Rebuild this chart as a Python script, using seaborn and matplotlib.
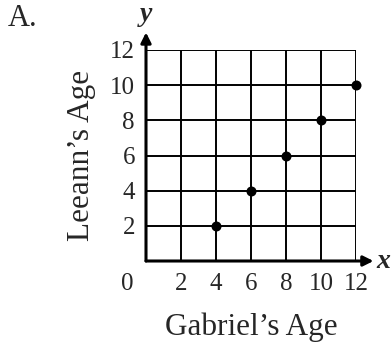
import numpy as np
import pandas as pd
import seaborn as sns
import matplotlib.pyplot as plt

# Points
gabriel_age = [4, 6, 8, 10, 12]
leeann_age = [2, 4, 6, 8, 10]
tick_values = [0, 2, 4, 6, 8, 10, 12]
tick_labels = ['', '2', '4', '6', '8', '10', '12']

df = pd.DataFrame({'Gabriel': gabriel_age, 'Leeann': leeann_age})

sns.set_style('white')
plt.rcParams['font.family'] = ['Liberation Serif', 'DejaVu Serif']

fig = plt.figure(figsize=(3.92, 3.44), dpi=100)
ax = fig.add_axes([146 / 392, 1 - 261 / 344, 210 / 392, 211 / 344])

sns.scatterplot(x='Gabriel', y='Leeann', data=df, ax=ax, color='black',
                s=52, edgecolor='black', linewidth=0, zorder=5, clip_on=False)

ax.set_xlim(0, 12)
ax.set_ylim(0, 12)
ax.set_xticks(tick_values)
ax.set_yticks(tick_values)
ax.set_xticklabels(tick_labels, fontsize=18)
ax.set_yticklabels(tick_labels, fontsize=18)
ax.tick_params(axis='both', length=0)
ax.tick_params(axis='x', pad=9)
ax.tick_params(axis='y', pad=8)
ax.grid(True, color='black', linewidth=1.4)

for side in ['top', 'right', 'left', 'bottom']:
    ax.spines[side].set_visible(False)

# axes with arrows
arrow = dict(arrowstyle='-|>', lw=2.2, color='black', mutation_scale=15,
             shrinkA=0, shrinkB=0)
ax.annotate('', xy=(0, 13.0), xytext=(0, 0), arrowprops=arrow,
            annotation_clip=False)
ax.annotate('', xy=(13.0, 0), xytext=(0, 0), arrowprops=arrow,
            annotation_clip=False)

ax.text(-1.1, -1.3, '0', fontsize=18, ha='center', va='center')
ax.text(0, 14.0, 'y', fontsize=20, fontweight='bold', style='italic',
        ha='center', va='center')
ax.text(13.55, -0.05, 'x', fontsize=20, fontweight='bold', style='italic',
        ha='center', va='center')

ax.set_xlabel('Gabriel’s Age', fontsize=22.5, labelpad=12)
ax.set_ylabel('Leeann’s Age', fontsize=22.5, labelpad=10)

fig.text(8 / 392, 1 - 19 / 344, 'A.', fontsize=22, ha='left', va='center')

fig.savefig('out.png', dpi=100)
